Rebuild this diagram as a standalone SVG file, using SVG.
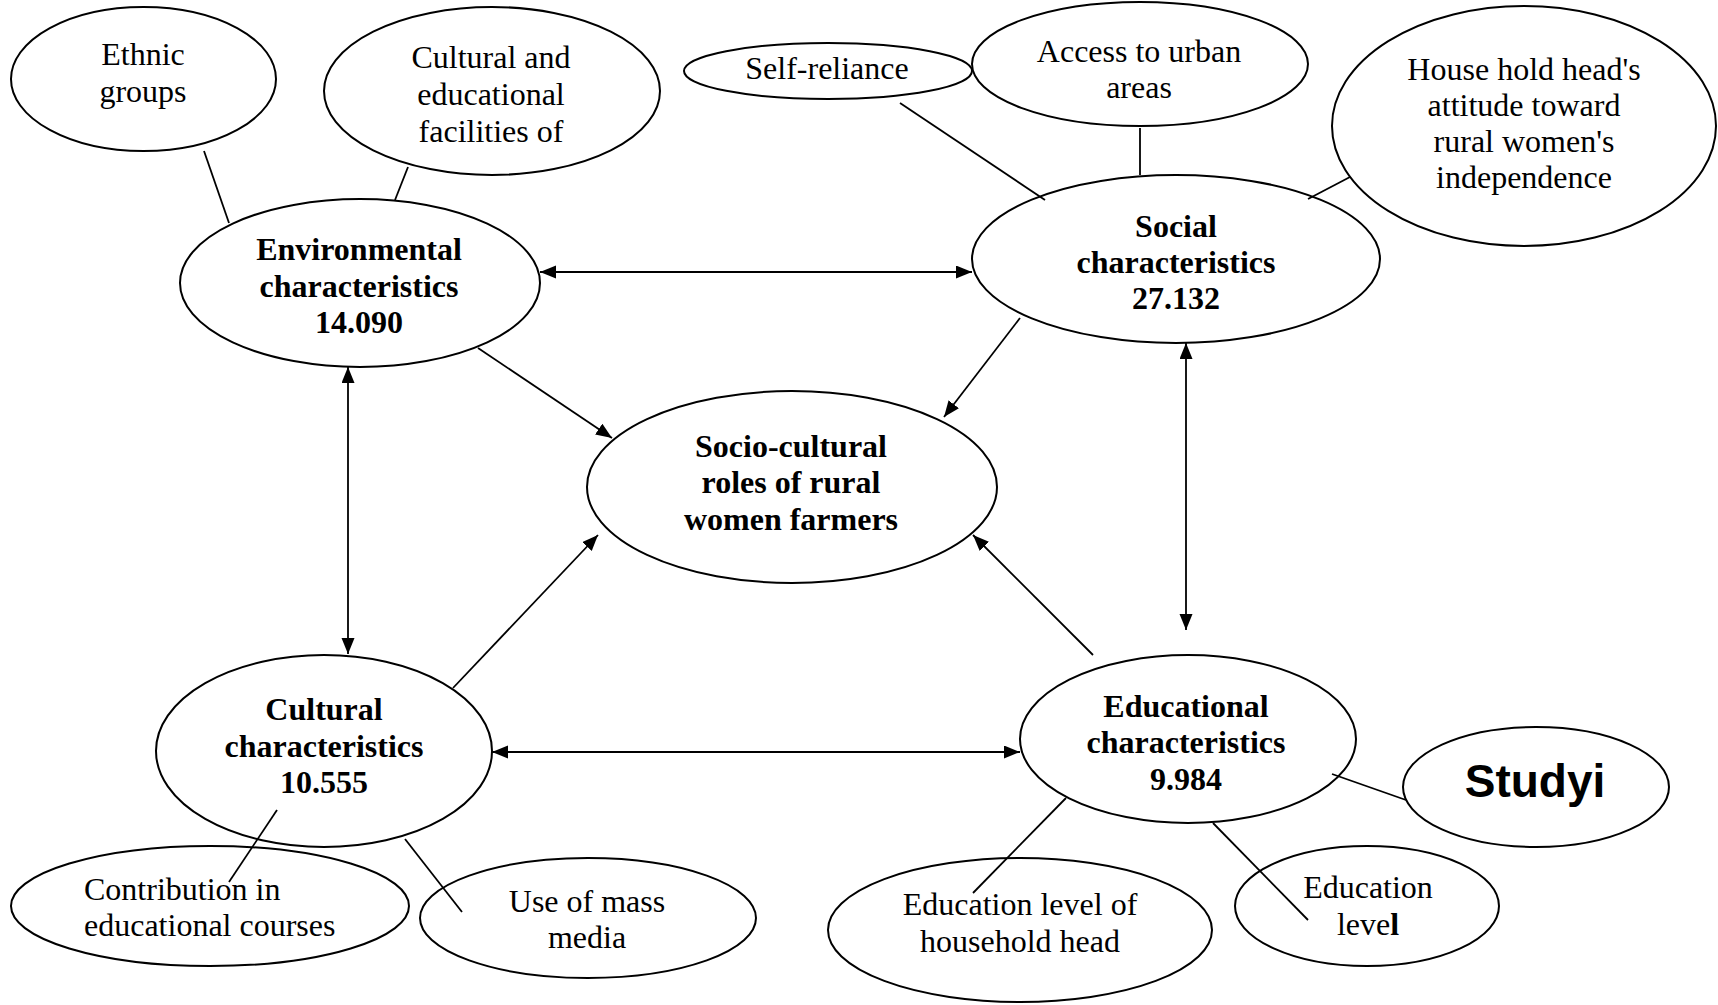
<svg xmlns="http://www.w3.org/2000/svg" width="1718" height="1005" viewBox="0 0 1718 1005">
<style>
.n{fill:#fff;stroke:#000;stroke-width:2}
.t{font-family:"Liberation Serif","Times New Roman",serif;font-size:32px;fill:#000;text-anchor:middle}
.b{font-weight:bold}
.c{stroke:#000;stroke-width:1.8;fill:none}
</style>
<defs>
<marker id="ah" markerUnits="userSpaceOnUse" markerWidth="17" markerHeight="14" refX="16" refY="6.5" orient="auto-start-reverse" viewBox="0 0 17 14">
<path d="M0,0 L16,6.5 L0,13 z" fill="#000"/>
</marker>
</defs>
<rect width="1718" height="1005" fill="#fff"/>
<g id="ethnic"><ellipse class="n" cx="143.5" cy="79" rx="132.5" ry="72"/>
<text class="t" x="143" y="65">Ethnic</text><text class="t" x="143" y="102">groups</text></g>
<g id="cultfac"><ellipse class="n" cx="492" cy="91" rx="168" ry="84"/>
<text class="t" x="491" y="68">Cultural and</text><text class="t" x="491" y="105">educational</text><text class="t" x="491" y="142">facilities of</text></g>
<g id="selfrel"><ellipse class="n" cx="828" cy="71" rx="144" ry="28"/>
<text class="t" x="827" y="79">Self-reliance</text></g>
<g id="access"><ellipse class="n" cx="1140" cy="64" rx="168" ry="62"/>
<text class="t" x="1139" y="62">Access to urban</text><text class="t" x="1139" y="98">areas</text></g>
<g id="house"><ellipse class="n" cx="1524" cy="126" rx="192" ry="120"/>
<text class="t" x="1524" y="80">House hold head's</text><text class="t" x="1524" y="116">attitude toward</text><text class="t" x="1524" y="152">rural women's</text><text class="t" x="1524" y="188">independence</text></g>
<g id="env"><ellipse class="n" cx="360" cy="283" rx="180" ry="84"/>
<text class="t b" x="359" y="260">Environmental</text><text class="t b" x="359" y="297">characteristics</text><text class="t b" x="359" y="333">14.090</text></g>
<g id="social"><ellipse class="n" cx="1176" cy="259" rx="204" ry="84"/>
<text class="t b" x="1176" y="237">Social</text><text class="t b" x="1176" y="273">characteristics</text><text class="t b" x="1176" y="309">27.132</text></g>
<g id="center"><ellipse class="n" cx="792" cy="487" rx="205" ry="96"/>
<text class="t b" x="791" y="457">Socio-cultural</text><text class="t b" x="791" y="493">roles of rural</text><text class="t b" x="791" y="530">women farmers</text></g>
<g id="cultural"><ellipse class="n" cx="324" cy="751" rx="168" ry="96"/>
<text class="t b" x="324" y="720">Cultural</text><text class="t b" x="324" y="757">characteristics</text><text class="t b" x="324" y="793">10.555</text></g>
<g id="educ"><ellipse class="n" cx="1188" cy="739" rx="168" ry="84"/>
<text class="t b" x="1186" y="717">Educational</text><text class="t b" x="1186" y="753">characteristics</text><text class="t b" x="1186" y="790">9.984</text></g>
<g id="contrib"><ellipse class="n" cx="210" cy="906" rx="199" ry="60"/>
<text class="t" x="84" y="900" style="text-anchor:start">Contribution in</text><text class="t" x="84" y="936" style="text-anchor:start">educational courses</text></g>
<g id="media"><ellipse class="n" cx="588" cy="918" rx="168" ry="60"/>
<text class="t" x="587" y="912">Use of mass</text><text class="t" x="587" y="948">media</text></g>
<g id="hhedu"><ellipse class="n" cx="1020" cy="930" rx="192" ry="72"/>
<text class="t" x="1020" y="915">Education level of</text><text class="t" x="1020" y="952">household head</text></g>
<g id="edulevel"><ellipse class="n" cx="1367" cy="906" rx="132" ry="60"/>
<text class="t" x="1368" y="898">Education</text><text class="t" x="1368" y="935"><tspan>leve</tspan><tspan class="b">l</tspan></text></g>
<g id="studyi"><ellipse class="n" cx="1536" cy="787" rx="133" ry="60"/>
<text x="1535" y="797" style="font-family:'Liberation Sans',Arial,sans-serif;font-size:46px;font-weight:bold;text-anchor:middle">Studyi</text></g>
<g id="connectors">
<line class="c" x1="204" y1="151" x2="229" y2="223"/>
<line class="c" x1="408" y1="167" x2="395" y2="200"/>
<line class="c" x1="900" y1="103" x2="1045" y2="200"/>
<line class="c" x1="1140" y1="128" x2="1140" y2="175"/>
<line class="c" x1="1350" y1="177" x2="1308" y2="199"/>
<line class="c" x1="277" y1="810" x2="229" y2="882"/>
<line class="c" x1="405" y1="839" x2="462" y2="912"/>
<line class="c" x1="1066" y1="798" x2="973" y2="893"/>
<line class="c" x1="1213" y1="823" x2="1308" y2="920"/>
<line class="c" x1="1332" y1="774" x2="1406" y2="800"/>
<line class="c" x1="540" y1="272" x2="972" y2="272" marker-start="url(#ah)" marker-end="url(#ah)"/>
<line class="c" x1="348" y1="367" x2="348" y2="654" marker-start="url(#ah)" marker-end="url(#ah)"/>
<line class="c" x1="1186" y1="343" x2="1186" y2="630" marker-start="url(#ah)" marker-end="url(#ah)"/>
<line class="c" x1="492" y1="752" x2="1020" y2="752" marker-start="url(#ah)" marker-end="url(#ah)"/>
<line class="c" x1="478" y1="348" x2="612" y2="438" marker-end="url(#ah)"/>
<line class="c" x1="1020" y1="318" x2="944" y2="417" marker-end="url(#ah)"/>
<line class="c" x1="453" y1="688" x2="598" y2="535" marker-end="url(#ah)"/>
<line class="c" x1="1093" y1="655" x2="973" y2="535" marker-end="url(#ah)"/>
</g>
</svg>
